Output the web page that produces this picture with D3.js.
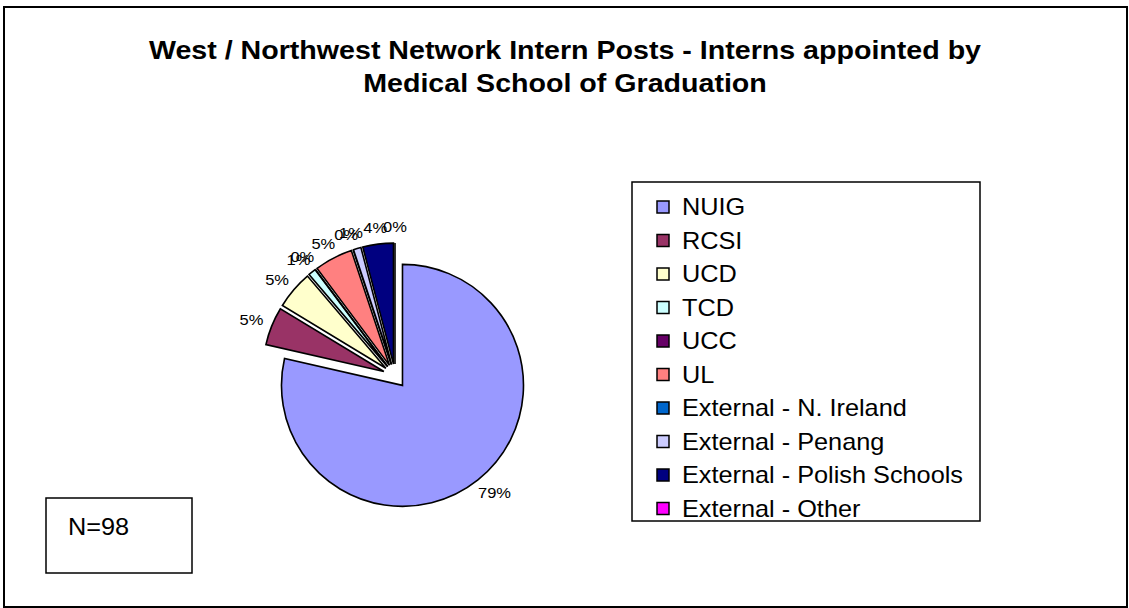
<!DOCTYPE html>
<html>
<head>
<meta charset="utf-8">
<script src="https://cdn.jsdelivr.net/npm/d3@7/dist/d3.min.js"></script>
<style>
  html, body { margin: 0; padding: 0; background: #fff; }
  svg { display: block; font-family: Arial, "Liberation Sans", sans-serif; }
</style>
</head>
<body>
<svg id="chart" width="1129" height="608"></svg>
<script>
// ---- data ----
const categories = ["NUIG", "RCSI", "UCD", "TCD", "UCC", "UL",
  "External - N. Ireland", "External - Penang", "External - Polish Schools", "External - Other"];
const counts = [77, 5, 5, 1, 0, 5, 0, 1, 4, 0];
const palette = ["#9999FF", "#993366", "#FFFFCC", "#CCFFFF", "#660066", "#FF8080",
  "#0066CC", "#CCCCFF", "#000080", "#FF00FF"];
const titleLines = ["West / Northwest Network Intern Posts - Interns appointed by",
  "Medical School of Graduation"];
const noteText = "N=98";

// ---- layout ----
const W = 1129, H = 608;
const SX = 1.1; // horizontal stretch of text seen in the reference
const svg = d3.select("#chart");
const cx = 395, cy = 376, r = 121, explode = 12;

function place(sel, x, y) {
  return sel.attr("transform", `translate(${x},${y}) scale(${SX},1)`);
}

// outer border
svg.append("rect").attr("x", 4).attr("y", 7).attr("width", W - 6).attr("height", H - 8)
  .attr("fill", "#fff").attr("stroke", "#000").attr("stroke-width", 2);

// title
titleLines.forEach((t, i) => {
  place(svg.append("text"), 565, 59 + i * 33)
    .attr("text-anchor", "middle").attr("font-weight", "bold")
    .attr("font-size", 26).attr("fill", "#000").text(t);
});

const total = d3.sum(counts);
const color = d3.scaleOrdinal().domain(categories).range(palette);
const pie = d3.pie().sort(null).value(d => d.v).startAngle(0).endAngle(2 * Math.PI);
const data = categories.map((c, i) => ({ c, v: counts[i] }));
const arcs = pie(data);
const arcGen = d3.arc().innerRadius(0).outerRadius(r);

const g = svg.append("g").attr("transform", `translate(${cx},${cy})`);
arcs.forEach(a => {
  const mid = (a.startAngle + a.endAngle) / 2;
  const dx = Math.sin(mid) * explode, dy = -Math.cos(mid) * explode;
  g.append("path")
    .attr("d", arcGen(a))
    .attr("transform", `translate(${dx},${dy})`)
    .attr("fill", color(a.data.c))
    .attr("stroke", "#000").attr("stroke-width", 1.6).attr("stroke-linejoin", "miter");
});

// percentage labels
const fmt = v => Math.round(v / total * 100) + "%";
const R0 = 143, lh = 12;
arcs.forEach(a => {
  const mid = (a.startAngle + a.endAngle) / 2;
  const ux = Math.sin(mid), uy = -Math.cos(mid);
  const t = g.append("text").attr("font-size", 15).attr("fill", "#000")
    .attr("text-anchor", "middle").attr("dy", "0.35em").text(fmt(a.data.v));
  const w = t.node().getComputedTextLength() * SX;
  place(t, ux * R0 + ux * w / 2, uy * R0 + uy * lh / 2);
});

// legend
const lx = 632, ly = 182, lw = 348, lhgt = 339, step = 33.5;
svg.append("rect").attr("x", lx).attr("y", ly).attr("width", lw).attr("height", lhgt)
  .attr("fill", "#fff").attr("stroke", "#000").attr("stroke-width", 1.5);
const leg = svg.append("g");
categories.forEach((c, i) => {
  const y = 207 + i * step;
  leg.append("rect").attr("x", 657).attr("y", y - 6).attr("width", 12).attr("height", 12)
    .attr("fill", color(c)).attr("stroke", "#000").attr("stroke-width", 1.5);
  place(leg.append("text"), 682, y).attr("dy", "0.36em")
    .attr("font-size", 23).attr("fill", "#000").text(c);
});

// note box
svg.append("rect").attr("x", 46).attr("y", 498).attr("width", 146).attr("height", 75)
  .attr("fill", "#fff").attr("stroke", "#000").attr("stroke-width", 1.5);
place(svg.append("text"), 68, 527).attr("dy", "0.36em")
  .attr("font-size", 23).attr("fill", "#000").text(noteText);
</script>
</body>
</html>
